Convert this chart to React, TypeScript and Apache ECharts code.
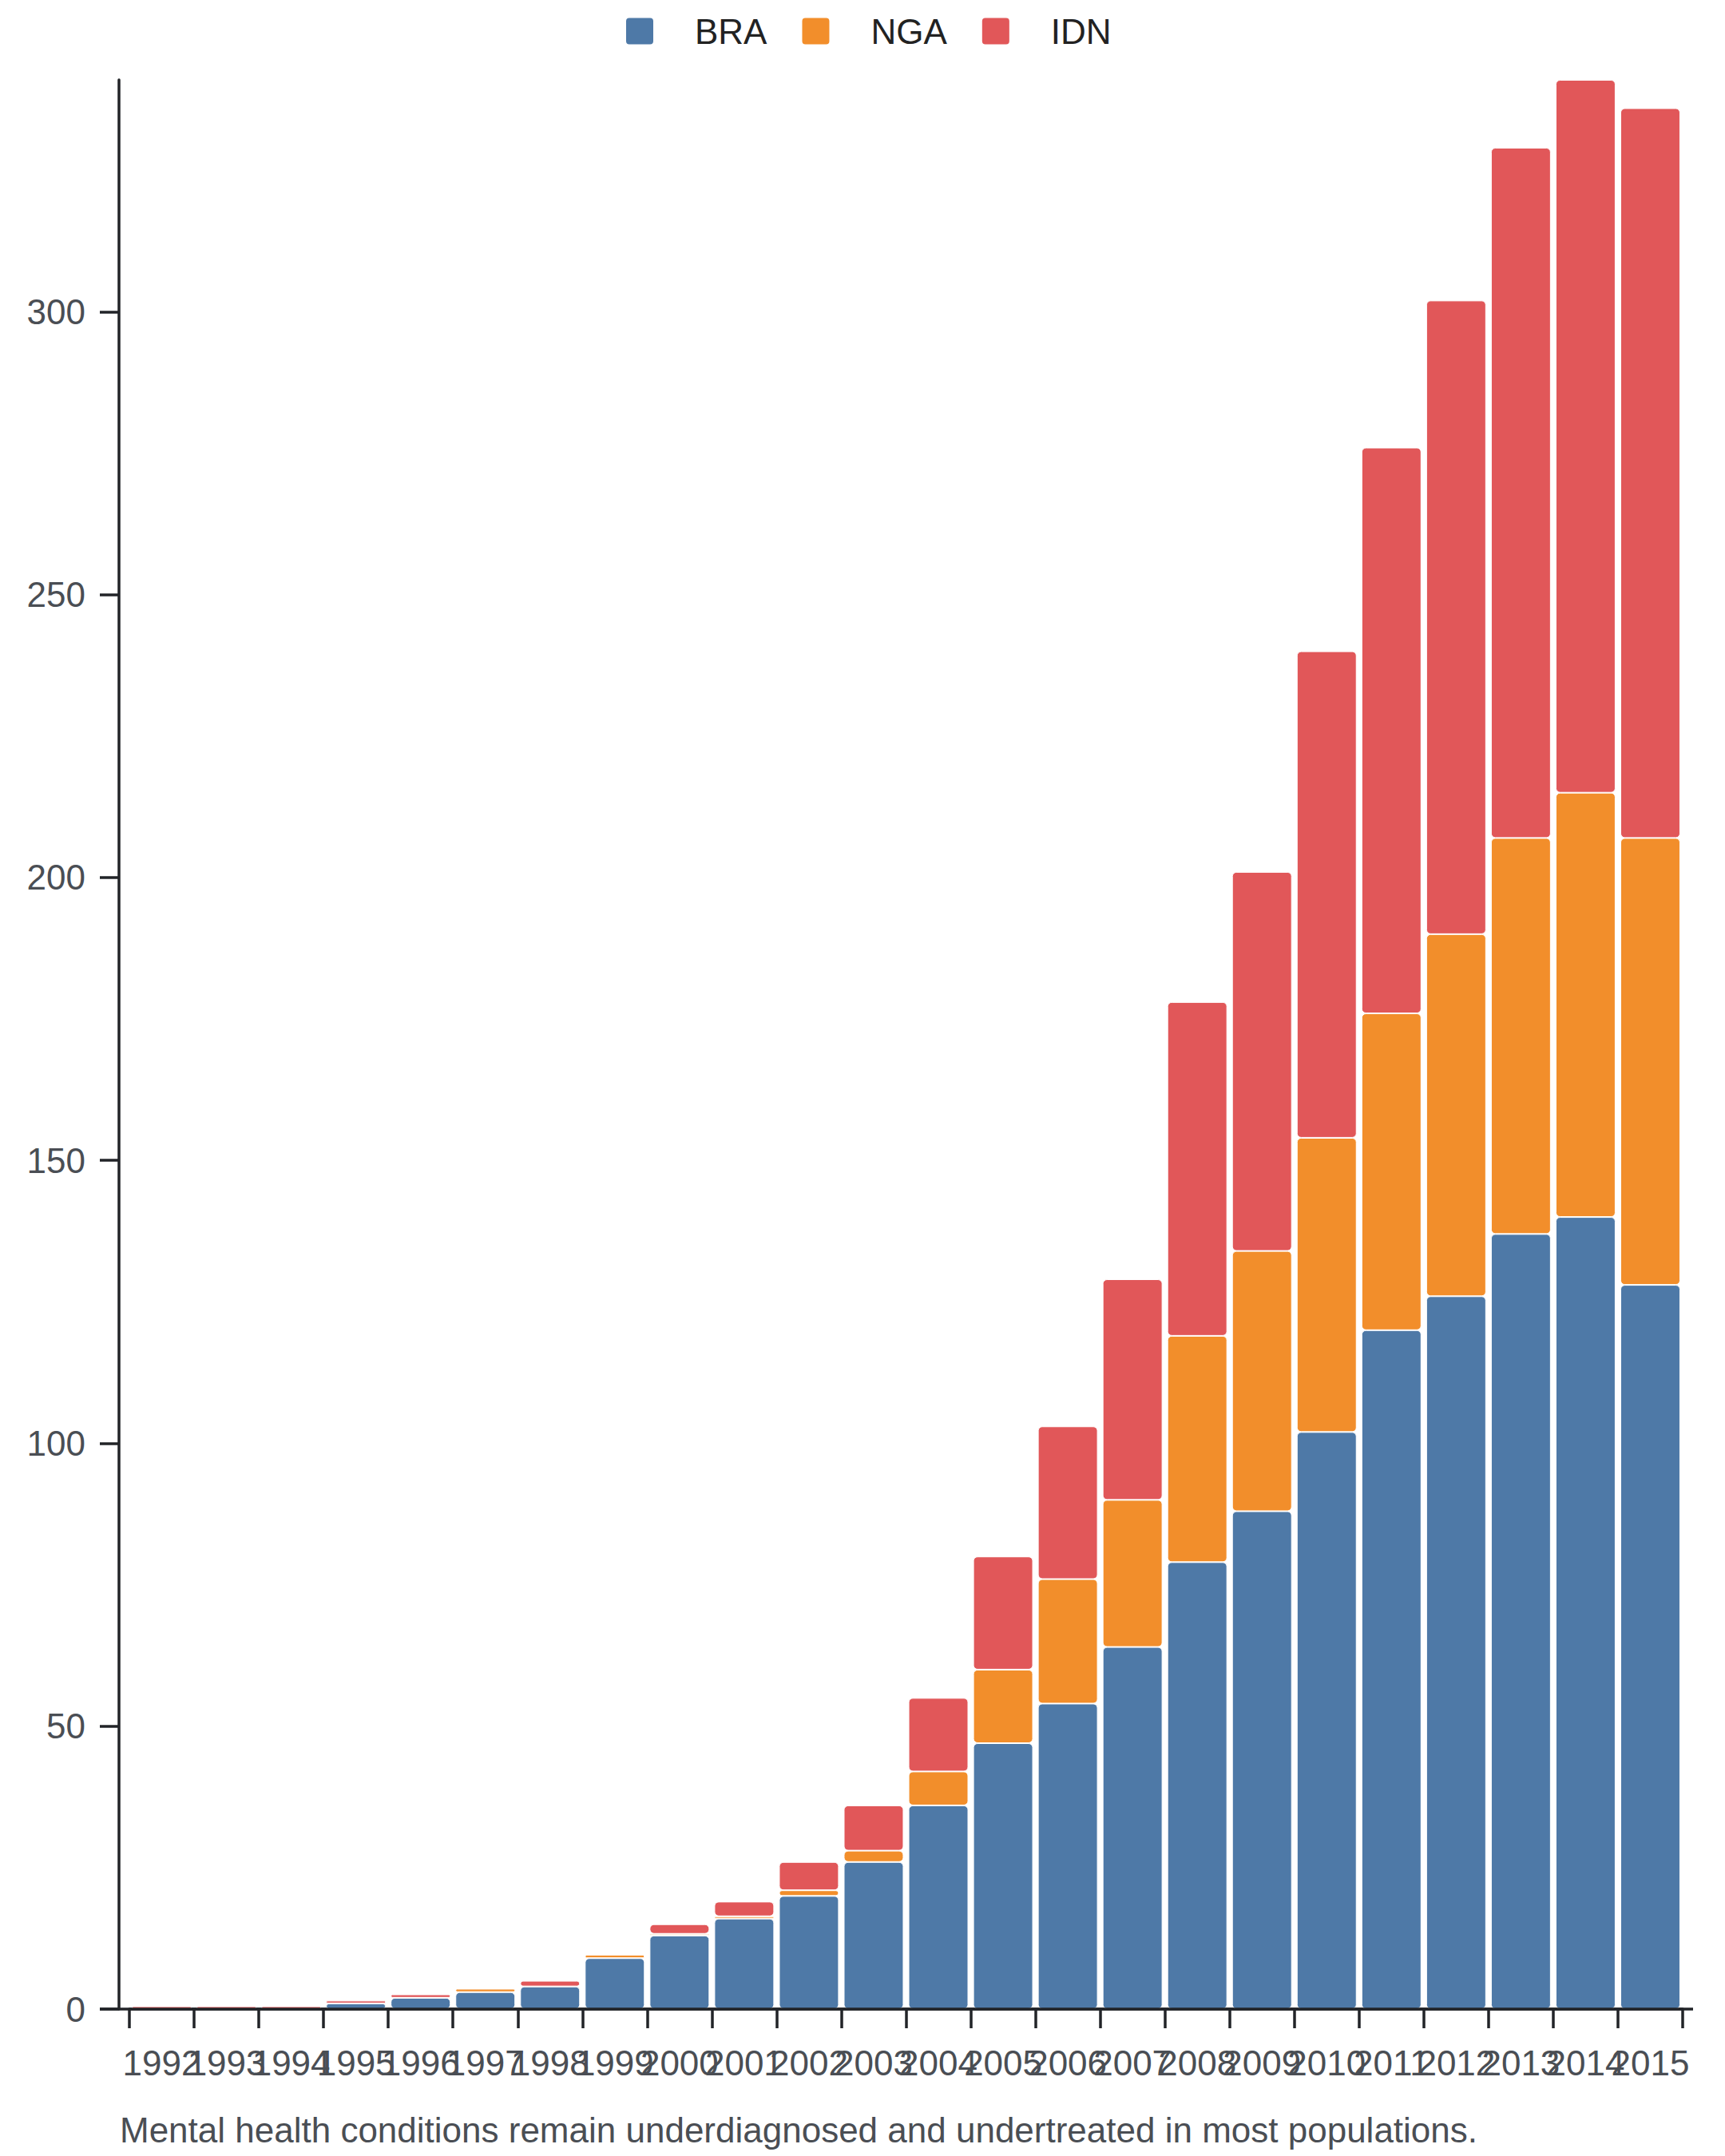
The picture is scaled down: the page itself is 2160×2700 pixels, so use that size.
import { useEffect, useRef } from "react";
import * as echarts from "echarts";

const years = [
  "1992", "1993", "1994", "1995", "1996", "1997", "1998", "1999", "2000", "2001", "2002", "2003",
  "2004", "2005", "2006", "2007", "2008", "2009", "2010", "2011", "2012", "2013", "2014", "2015",
];
const bra = [0, 0, 0, 1, 2, 3, 4, 9, 13, 16, 20, 26, 36, 47, 54, 64, 79, 88, 102, 120, 126, 137, 140, 128];
const nga = [0, 0, 0, 0, 0, 0.6, 0, 0.6, 0.3, 0.4, 1, 2, 6, 13, 22, 26, 40, 46, 52, 56, 64, 70, 75, 79];
const idn = [0.5, 0.5, 0.5, 0.5, 0.6, 0, 1, 0, 1.7, 2.6, 5, 8, 13, 20, 27, 39, 59, 67, 86, 100, 112, 122, 126, 129];
const yTicks = [0, 50, 100, 150, 200, 250, 300];
const subtitle = "Mental health conditions remain underdiagnosed and undertreated in most populations.";

const seriesDefs = [
  { name: "BRA", color: "#4e79a7", data: bra },
  { name: "NGA", color: "#f28e2b", data: nga },
  { name: "IDN", color: "#e15759", data: idn },
];

const FONT = "'Liberation Sans', Arial, sans-serif";
const AXIS = "#222428";
const LABEL = "#4a4e54";
// carré aux coins arrondis pour la légende
const LEGEND_ICON =
  "path://M5,0 H31 A5,5 0 0 1 36,5 V30 A5,5 0 0 1 31,35 H5 A5,5 0 0 1 0,30 V5 A5,5 0 0 1 5,0 Z";

export default function App() {
  const ref = useRef<HTMLDivElement>(null);

  useEffect(() => {
    document.body.style.margin = "0";
    if (!ref.current) return;
    const chart = echarts.init(ref.current, null, { renderer: "svg" });
    const totals = years.map((_, i) => bra[i] + nga[i] + idn[i]);
    const yMax = Math.max(...totals);

    chart.setOption({
      animation: false,
      backgroundColor: "#ffffff",
      textStyle: { fontFamily: FONT },
      title: {
        text: subtitle,
        left: 145,
        top: 2640,
        textStyle: { fontSize: 44, fontWeight: "normal", color: LABEL, fontFamily: FONT },
      },
      legend: {
        top: 12,
        left: 777,
        icon: LEGEND_ICON,
        itemWidth: 36,
        itemHeight: 35,
        itemGap: 42,
        textStyle: { fontSize: 44, color: "#222", fontFamily: FONT, padding: [0, 0, 0, 46] },
        data: seriesDefs.map((s) => s.name),
      },
      grid: { left: 162, right: 53, top: 100, bottom: 184, containLabel: false },
      xAxis: {
        type: "category",
        data: years,
        axisLine: { show: true, lineStyle: { color: AXIS, width: 3.5 } },
        axisTick: { show: true, length: 24, alignWithLabel: false, lineStyle: { color: AXIS, width: 3.5 } },
        axisLabel: { interval: 0, fontSize: 44, color: LABEL, margin: 45, fontFamily: FONT },
        splitLine: { show: false },
      },
      yAxis: {
        type: "value",
        min: 0,
        max: yMax,
        interval: 50,
        offset: 13,
        axisLine: { show: true, onZero: false, lineStyle: { color: AXIS, width: 3.5 } },
        axisTick: { show: true, length: 24, customValues: yTicks, lineStyle: { color: AXIS, width: 3.5 } },
        axisLabel: { fontSize: 44, color: LABEL, margin: 42, customValues: yTicks, fontFamily: FONT },
        splitLine: { show: false },
      },
      graphic: [
        {
          type: "line",
          z: 5,
          shape: { x1: 125, y1: 2516, x2: 2120, y2: 2516 },
          style: { stroke: AXIS, lineWidth: 3.5 },
        },
      ],
      series: seriesDefs.map((s) => ({
        name: s.name,
        type: "bar",
        stack: "total",
        barCategoryGap: "7.5%",
        data: s.data,
        itemStyle: { color: s.color, borderColor: "#ffffff", borderWidth: 1, borderRadius: 5 },
        emphasis: { disabled: true },
      })),
    });

    return () => chart.dispose();
  }, []);

  return <div ref={ref} style={{ width: 2160, height: 2700 }} />;
}
